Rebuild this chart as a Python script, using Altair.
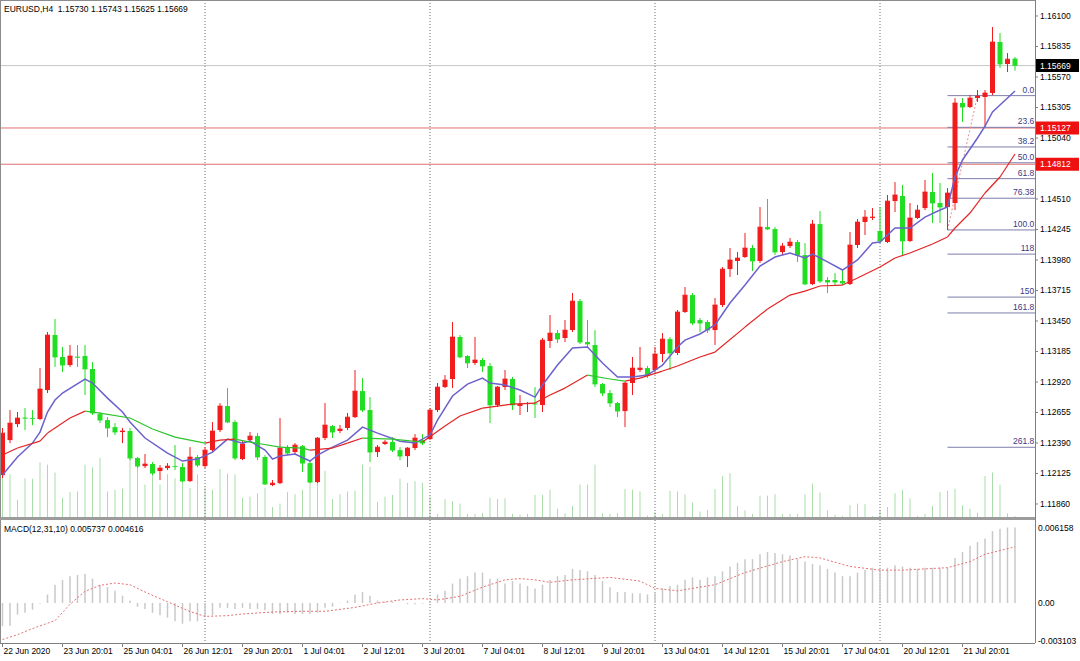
import altair as alt
import pandas as pd

# ---------------- data (bar index 0..135, EURUSD H4 from 22 Jun 2020) ----------------
opens = [1.12111,1.12415,1.12554,1.12610,1.12607,1.12598,1.12850,1.13328,1.13137,1.13067,
         1.13140,1.13146,1.13033,1.12641,1.12589,1.12528,1.12485,1.12494,1.12259,1.12189,
         1.12207,1.12146,1.12172,1.12189,1.12181,1.12059,1.12268,1.12189,1.12328,1.12502,
         1.12711,1.12572,1.12250,1.12415,1.12450,1.12268,1.12024,1.12041,1.12346,1.12311,
         1.12363,1.12215,1.12050,1.12433,1.12537,1.12494,1.12520,1.12615,1.12841,1.12676,
         1.12311,1.12381,1.12398,1.12328,1.12276,1.12346,1.12415,1.12424,1.12676,1.12876,
         1.12946,1.13311,1.13146,1.13085,1.13111,1.13059,1.12720,1.12876,1.12946,1.12711,
         1.12728,1.12733,1.12720,1.13276,1.13345,1.13302,1.13371,1.13623,1.13267,1.13241,
         1.12902,1.12824,1.12737,1.12667,1.12911,1.13024,1.13041,1.13024,1.13163,1.13293,
         1.13172,1.13528,1.13675,1.13458,1.13441,1.13371,1.13589,1.13901,1.13971,1.14006,
         1.14084,1.13971,1.14266,1.14249,1.14049,1.14101,1.14136,1.14023,1.13771,1.14292,
         1.13806,1.13806,1.13797,1.13771,1.14110,1.14310,1.14345,1.14232,1.14136,1.14492,
         1.14536,1.14145,1.14345,1.14431,1.14571,1.14475,1.14440,1.14475,1.15344,1.15309,
         1.15387,1.15396,1.15431,1.15874,1.15683,1.15730]
highs = [1.12520,1.12676,1.12659,1.12693,1.12676,1.13041,1.13354,1.13467,1.13224,1.13241,
         1.13241,1.13241,1.13093,1.12659,1.12615,1.12563,1.12520,1.12520,1.12268,1.12294,
         1.12224,1.12198,1.12215,1.12372,1.12215,1.12354,1.12285,1.12354,1.12572,1.12737,
         1.12867,1.12589,1.12415,1.12485,1.12476,1.12285,1.12068,1.12607,1.12372,1.12389,
         1.12372,1.12241,1.12441,1.12737,1.12546,1.12546,1.12650,1.13024,1.12954,1.12789,
         1.12372,1.12415,1.12441,1.12354,1.12354,1.12467,1.12467,1.12693,1.12911,1.12980,
         1.13441,1.13328,1.13154,1.13311,1.13128,1.13085,1.12884,1.13024,1.12963,1.12807,
         1.12746,1.12876,1.13302,1.13502,1.13371,1.13458,1.13693,1.13641,1.13458,1.13371,
         1.12911,1.12850,1.12746,1.12920,1.13137,1.13224,1.13059,1.13224,1.13345,1.13311,
         1.13545,1.13745,1.13693,1.13476,1.13458,1.13650,1.13919,1.14084,1.14049,1.14214,
         1.14110,1.14440,1.14510,1.14266,1.14127,1.14171,1.14153,1.14127,1.14327,1.14405,
         1.13832,1.13867,1.13893,1.14223,1.14336,1.14414,1.14431,1.14440,1.14545,1.14657,
         1.14631,1.14475,1.14458,1.14675,1.14736,1.14649,1.14605,1.15387,1.15387,1.15413,
         1.15457,1.15457,1.16004,1.15952,1.15778,1.15743]
lows = [1.12085,1.12389,1.12528,1.12502,1.12545,1.12589,1.12824,1.13050,1.13006,1.13050,
        1.13050,1.12807,1.12633,1.12563,1.12441,1.12459,1.12389,1.12241,1.12172,1.12172,
        1.12111,1.12068,1.12155,1.12155,1.12050,1.12050,1.12181,1.12172,1.12311,1.12485,
        1.12563,1.12241,1.12241,1.12398,1.12241,1.12024,1.12015,1.12033,1.12285,1.12285,
        1.12137,1.12041,1.12041,1.12415,1.12433,1.12476,1.12502,1.12607,1.12659,1.12224,
        1.12268,1.12372,1.12311,1.12241,1.12181,1.12328,1.12372,1.12415,1.12659,1.12867,
        1.12867,1.13128,1.13041,1.13067,1.13006,1.12563,1.12702,1.12850,1.12676,1.12633,
        1.12659,1.12607,1.12659,1.13215,1.13259,1.13267,1.13354,1.13250,1.13224,1.12876,
        1.12798,1.12702,1.12615,1.12528,1.12807,1.13006,1.12954,1.13006,1.13093,1.13024,
        1.13154,1.13519,1.13415,1.13354,1.13345,1.13241,1.13571,1.13832,1.13849,1.13997,
        1.13884,1.13954,1.14240,1.14023,1.14023,1.14084,1.13963,1.13762,1.13762,1.13780,
        1.13693,1.13762,1.13762,1.13762,1.14084,1.14197,1.14327,1.14127,1.14127,1.14397,
        1.14023,1.14136,1.14336,1.14414,1.14301,1.14301,1.14240,1.14414,1.15179,1.15300,
        1.15353,1.15135,1.15413,1.15648,1.15613,1.15625]
closes = [1.12476,1.12563,1.12607,1.12605,1.12603,1.12859,1.13328,1.13137,1.13067,1.13146,
          1.13134,1.13033,1.12650,1.12589,1.12520,1.12485,1.12494,1.12259,1.12189,1.12207,
          1.12128,1.12172,1.12189,1.12185,1.12059,1.12268,1.12198,1.12328,1.12494,1.12711,
          1.12572,1.12259,1.12381,1.12450,1.12268,1.12033,1.12041,1.12346,1.12302,1.12372,
          1.12215,1.12050,1.12433,1.12546,1.12485,1.12511,1.12615,1.12841,1.12676,1.12311,
          1.12354,1.12398,1.12328,1.12276,1.12346,1.12433,1.12389,1.12676,1.12876,1.12937,
          1.13311,1.13137,1.13085,1.13111,1.13059,1.12720,1.12876,1.12946,1.12720,1.12728,
          1.12733,1.12728,1.13284,1.13345,1.13293,1.13371,1.13623,1.13267,1.13250,1.12902,
          1.12824,1.12737,1.12667,1.12911,1.13041,1.13041,1.12980,1.13163,1.13293,1.13172,
          1.13528,1.13675,1.13432,1.13432,1.13371,1.13589,1.13901,1.13980,1.13997,1.14084,
          1.13971,1.14266,1.14249,1.14049,1.14101,1.14136,1.14023,1.13771,1.14292,1.13797,
          1.13788,1.13788,1.13780,1.14110,1.14310,1.14353,1.14353,1.14145,1.14492,1.14545,
          1.14145,1.14345,1.14414,1.14571,1.14475,1.14440,1.14562,1.15344,1.15309,1.15387,
          1.15405,1.15431,1.15874,1.15683,1.15725,1.15669]
volumes = [5700,6200,2450,5600,5550,7950,7600,6450,2800,3600,
           3700,7600,7200,8600,3700,3950,4100,8450,7300,4700,
           6200,4700,6200,5600,6550,4200,6200,4300,3950,6950,
           6300,6200,2800,2950,3450,4200,1450,1950,3600,3300,
           3950,5700,5450,6700,2600,3300,3700,3800,7600,7300,
           2200,2950,3200,5550,4950,5200,4950,2950,450,2600,
           2300,1950,450,450,600,2800,2600,2700,450,350,
           450,3200,3200,3950,1200,550,1600,4700,4700,7600,
           550,450,550,4050,3950,3700,200,700,450,3800,
           3700,3300,2100,800,1050,4050,5950,6350,1600,950,
           450,3100,3100,3300,450,450,450,3300,4850,3550,
           950,350,150,1700,1950,1850,150,1050,1450,3450,
           3950,2700,150,450,1600,3600,3800,4100,1700,1200,
           600,5950,6450,4700,550,150]
macd_hist = [-0.0019,-0.00186,-0.00096,-0.0008,-0.00055,-0.00005,0.0007,0.0015,0.0019,0.0022,
             0.0023,0.0024,0.0020,0.0015,0.0013,0.0010,0.0006,0.0002,-0.0003,-0.0005,
             -0.0008,-0.0010,-0.0012,-0.0015,-0.0017,-0.0015,-0.0015,-0.0011,-0.0010,-0.0004,
             -0.0004,-0.0005,-0.0004,-0.0005,-0.0005,-0.0006,-0.0009,-0.0009,-0.0008,-0.0009,
             -0.0009,-0.0009,-0.0008,-0.0004,-0.0003,0.00003,0.0002,0.0007,0.0009,0.0006,
             0.0002,0.0001,0.0001,0.00003,-0.0001,-0.0001,-0.00005,0.0001,0.0007,0.0010,
             0.0016,0.0020,0.0022,0.0025,0.0025,0.0020,0.0020,0.0016,0.0018,0.0016,
             0.0014,0.0012,0.0015,0.0019,0.0022,0.0023,0.0028,0.0027,0.0026,0.0023,
             0.0018,0.0013,0.0009,0.0009,0.0008,0.0008,0.0007,0.0009,0.0012,0.0014,
             0.0015,0.0019,0.0021,0.0019,0.0021,0.0022,0.0026,0.0030,0.0033,0.0036,
             0.0036,0.0040,0.0042,0.0041,0.0040,0.0039,0.0036,0.0034,0.0032,0.0031,
             0.0028,0.0025,0.0022,0.0022,0.0025,0.0027,0.0029,0.0029,0.0029,0.0031,
             0.0030,0.0029,0.0028,0.0029,0.0029,0.0029,0.0029,0.0037,0.0042,0.0047,
             0.0050,0.0053,0.0059,0.0061,0.0062,0.0062]

# fast moving average (blue), read at selected bars
blue_k = [0,2,4,5,6,7,8,11,12,14,16,17,19,22,24,26,28,30,32,33,35,36,37,39,41,42,44,46,48,50,
          53,55,57,58,60,62,64,65,67,69,71,72,74,76,78,80,82,84,86,88,90,91,93,95,97,99,101,103,105,107,
          108,110,112,114,116,117,119,121,123,125,126,127,128,130,131,132,134,135]
blue_v = [1.12111,1.12268,1.12389,1.12485,1.12659,1.12763,1.12824,1.12946,1.12911,1.12780,
          1.12659,1.12572,1.12433,1.12302,1.12233,1.12250,1.12311,1.12424,1.12389,1.12406,
          1.12328,1.12250,1.12276,1.12294,1.12233,1.12285,1.12354,1.12415,1.12528,1.12476,
          1.12406,1.12389,1.12459,1.12589,1.12798,1.12902,1.12954,1.12911,1.12894,1.12850,
          1.12789,1.12894,1.13067,1.13215,1.13224,1.13085,1.12963,1.12963,1.12980,1.13067,
          1.13224,1.13284,1.13337,1.13415,1.13606,1.13762,1.13927,1.14006,1.14041,1.13997,
          1.14032,1.13963,1.13893,1.13980,1.14127,1.14136,1.14258,1.14258,1.14353,1.14414,
          1.14440,1.14701,1.14849,1.15040,1.15144,1.15266,1.15387,1.15448]
# slow moving average (red when rising, green when falling)
ma_k = [0,2,5,6,9,11,13,17,20,23,27,29,31,33,37,40,41,44,46,48,52,56,59,61,64,66,68,71,73,75,
        78,81,83,85,88,90,93,95,99,102,105,107,109,112,114,117,119,121,124,126,127,129,131,133,135]
ma_v = [1.12285,1.12346,1.12406,1.12476,1.12607,1.12667,1.12650,1.12607,1.12511,1.12441,
        1.12389,1.12415,1.12424,1.12398,1.12354,1.12346,1.12328,1.12346,1.12389,1.12433,
        1.12424,1.12398,1.12537,1.12624,1.12693,1.12711,1.12728,1.12737,1.12807,1.12867,
        1.12980,1.12946,1.12928,1.12954,1.13015,1.13059,1.13137,1.13180,1.13397,1.13554,
        1.13675,1.13710,1.13754,1.13762,1.13823,1.13919,1.13997,1.14041,1.14119,1.14180,
        1.14258,1.14388,1.14562,1.14701,1.14901]
# MACD signal line
sig_k = [0,2,4,7,9,11,13,15,17,19,22,25,27,30,32,36,40,43,47,50,53,56,58,61,64,67,69,71,73,76,
         81,85,87,90,95,99,104,107,109,113,117,120,126,129,131,135]
sig_v = [-0.0030,-0.0026,-0.0021,-0.00145,-0.0001,0.00096,0.00145,0.00164,0.0015,0.0009,
         0.0001,-0.0007,-0.0011,-0.00104,-0.0009,-0.00074,-0.00068,-0.00068,-0.00036,0.0,
         0.00025,0.00036,0.00025,0.00055,0.0013,0.0019,0.0020,0.0019,0.0017,0.0019,
         0.0021,0.0018,0.0012,0.0010,0.0015,0.0025,0.0034,0.0038,0.0037,0.0030,
         0.0027,0.0027,0.0029,0.0034,0.0040,0.004616]

PRICE_TICKS = [1.11860,1.12125,1.12390,1.12655,1.12920,1.13185,1.13450,1.13715,1.13980,
               1.14245,1.14510,1.14775,1.15040,1.15305,1.15570,1.15835,1.16100]
PRICE_LABELS = [1.11860,1.12125,1.12390,1.12655,1.12920,1.13185,1.13450,1.13715,1.13980,
                1.14245,1.14510,1.15040,1.15305,1.15570,1.15835,1.16100]
MACD_TICKS = [0.006158, 0.0, -0.003103]
MACD_TICK_TEXT = ['0.006158', '0.00', '-0.003103']
XLAB_BARS = [0,8,16,24,32,40,48,56,64,72,80,88,96,104,112,120,128]
XLABELS = ['22 Jun 2020','23 Jun 20:01','25 Jun 04:01','26 Jun 12:01','29 Jun 20:01','1 Jul 04:01',
           '2 Jul 12:01','3 Jul 20:01','7 Jul 04:01','8 Jul 12:01','9 Jul 20:01','13 Jul 04:01',
           '14 Jul 12:01','15 Jul 20:01','17 Jul 04:01','20 Jul 12:01','21 Jul 20:01']
GRID_BARS = [27, 57, 87, 117]
LAST_PRICE = 1.15669
LEVEL_LINES = [1.15127, 1.14812]
FIB_LEVELS = [0, 23.6, 38.2, 50, 61.8, 76.38, 100, 118, 150, 161.8, 261.8]
FIB_LABELS = ['0.0','23.6','38.2','50.0','61.8','76.38','100.0','118','150','161.8','261.8']
FIB_HIGH = 1.15408
FIB_LOW = 1.14241
FIB_LOW_BAR = 126
FIB_HIGH_BAR = 130
HEADER = 'EURUSD,H4\u00a0\u00a01.15730 1.15743 1.15625 1.15669'
MACD_HEADER = 'MACD(12,31,10) 0.005737 0.004616'

# ---------------- layout / styling ----------------
RED = '#f21c1c'
GREEN = '#22de22'
FONT = 'Liberation Sans'
FS = 8.5
TOTAL_W, TOTAL_H = 1080, 661
W = 1035              # right edge of the plotting panes
MAIN_BOTTOM = 517     # bottom of price pane
MACD_TOP, MACD_BOTTOM = 520, 643
XMAX = 137 + 2 / 3
AXC = '#808080'

bars = pd.DataFrame({'k': list(range(len(opens))), 'open': opens, 'high': highs, 'low': lows,
                     'close': closes, 'volume': volumes, 'macd': macd_hist})
bars['col'] = [RED if c > o else GREEN for o, c in zip(opens, closes)]

blue_df = pd.DataFrame({'k': blue_k, 'v': blue_v})
ma_seg = pd.DataFrame({'k1': ma_k[:-1], 'k2': ma_k[1:], 'p1': ma_v[:-1], 'p2': ma_v[1:]})
ma_seg['col'] = ['#e32424' if b >= a else '#2ec42e' for a, b in zip(ma_seg['p1'], ma_seg['p2'])]
sig_df = pd.DataFrame({'k': sig_k, 'v': sig_v})
fib_df = pd.DataFrame({'lvl': FIB_LEVELS, 'label': FIB_LABELS})
fib_df['price'] = FIB_HIGH - (FIB_HIGH - FIB_LOW) * fib_df['lvl'] / 100.0
fib_df['x1'] = FIB_LOW_BAR
fib_df['x2'] = XMAX
fib_df['xl'] = XMAX - 0.1
trend_df = pd.DataFrame({'k1': [FIB_LOW_BAR], 'k2': [FIB_HIGH_BAR], 'p1': [FIB_LOW], 'p2': [FIB_HIGH]})
grid_df = pd.DataFrame({'k': GRID_BARS})
box_df = pd.DataFrame({'price': [LAST_PRICE] + LEVEL_LINES,
                       'text': ['%.5f' % LAST_PRICE] + ['%.5f' % p for p in LEVEL_LINES],
                       'bg': ['#000000', '#ee1111', '#ee1111']})
ptick_df = pd.DataFrame({'price': PRICE_TICKS})
plab_df = pd.DataFrame({'price': PRICE_LABELS, 'text': ['%.5f' % p for p in PRICE_LABELS]})
mtick_df = pd.DataFrame({'v': MACD_TICKS, 'text': MACD_TICK_TEXT})
xtick_df = pd.DataFrame({'k': XLAB_BARS, 'text': XLABELS})
one = pd.DataFrame({'a': [0]})

xsc = alt.Scale(domain=[-1 / 3, XMAX], range=[0, W], nice=False, zero=False, padding=0)
ysc = alt.Scale(domain=[1.117469, 1.16239], range=[MAIN_BOTTOM, 0], nice=False, zero=False, padding=0)
vsc = alt.Scale(domain=[0, 75000], range=[MAIN_BOTTOM, 0], nice=False, zero=False, padding=0)
msc = alt.Scale(domain=[-0.003284, 0.006815], range=[MACD_BOTTOM, MACD_TOP], nice=False, zero=False, padding=0)


def X(f='k'):
    return alt.X(f + ':Q', scale=xsc, axis=None)


def Yp(f):
    return alt.Y(f + ':Q', scale=ysc, axis=None)


def Ym(f):
    return alt.Y(f + ':Q', scale=msc, axis=None)


colv = alt.Color('col:N', scale=None)
cb = alt.Chart(bars)
txt = dict(font=FONT, fontSize=FS, color='#000000')

# ---------------- volume ----------------
vol = cb.mark_rule(color='#a9dca9', strokeWidth=1).encode(
    x=X(), y=alt.Y('volume:Q', scale=vsc, axis=None), y2=alt.datum(0))

# ---------------- price pane ----------------
grid_main = alt.Chart(grid_df).mark_rule(color='#6e6e6e', strokeDash=[1, 2], strokeWidth=1).encode(
    x=X(), y=alt.value(0), y2=alt.value(MAIN_BOTTOM))
last_line = alt.Chart(pd.DataFrame({'price': [LAST_PRICE]})).mark_rule(color='#c4c4c4', strokeWidth=1).encode(
    x=alt.value(0), x2=alt.value(W), y=Yp('price'))
lvl_lines = alt.Chart(pd.DataFrame({'price': LEVEL_LINES})).mark_rule(color='#e27070', strokeWidth=1).encode(
    x=alt.value(0), x2=alt.value(W), y=Yp('price'))
fib_lines = alt.Chart(fib_df).mark_rule(color='#7d7dab', strokeWidth=1).encode(
    x=X('x1'), x2='x2:Q', y=Yp('price'))
fib_text = alt.Chart(fib_df).mark_text(align='right', baseline='bottom', dy=-1, color='#3a3a86',
                                       font=FONT, fontSize=FS).encode(
    x=X('xl'), y=Yp('price'), text='label:N')
fib_trend = alt.Chart(trend_df).mark_rule(color='#e88c8c', strokeDash=[2, 2], strokeWidth=1).encode(
    x=X('k1'), x2='k2:Q', y=Yp('p1'), y2='p2:Q')

wicks = cb.mark_rule(strokeWidth=1).encode(x=X(), y=Yp('low'), y2='high:Q', color=colv)
bodies = cb.mark_bar(width=5, strokeWidth=0).encode(x=X(), y=Yp('open'), y2='close:Q', color=colv)
dojis = cb.mark_tick(orient='horizontal', size=5, thickness=1).encode(x=X(), y=Yp('close'), color=colv)

blue = alt.Chart(blue_df).mark_line(color='#6b62cc', strokeWidth=1.5).encode(x=X(), y=Yp('v'))
ma = alt.Chart(ma_seg).mark_rule(strokeWidth=1.2).encode(
    x=X('k1'), x2='k2:Q', y=Yp('p1'), y2='p2:Q', color=colv)

p_ticks = alt.Chart(ptick_df).mark_rule(color=AXC, strokeWidth=1).encode(
    x=alt.value(W), x2=alt.value(W + 3), y=Yp('price'))
p_labels = alt.Chart(plab_df).mark_text(align='left', baseline='middle', **txt).encode(
    x=alt.value(W + 5), y=Yp('price'), text='text:N')
boxes = alt.Chart(box_df).mark_rule(strokeWidth=13, strokeCap='butt').encode(
    x=alt.value(W + 1), x2=alt.value(W + 44), y=Yp('price'), color=alt.Color('bg:N', scale=None))
box_text = alt.Chart(box_df).mark_text(align='left', baseline='middle', color='#ffffff',
                                       font=FONT, fontSize=FS).encode(
    x=alt.value(W + 5), y=Yp('price'), text='text:N')

price_layer = alt.layer(grid_main, last_line, lvl_lines, fib_lines, fib_trend, wicks, bodies, dojis,
                        blue, ma, fib_text, p_ticks, p_labels, boxes, box_text)

# ---------------- MACD pane ----------------
grid_macd = alt.Chart(grid_df).mark_rule(color='#6e6e6e', strokeDash=[1, 2], strokeWidth=1).encode(
    x=X(), y=alt.value(MACD_TOP), y2=alt.value(MACD_BOTTOM))
hist = cb.mark_rule(color='#c8c8c8', strokeWidth=1.5).encode(x=X(), y=Ym('macd'), y2=alt.datum(0))
sig = alt.Chart(sig_df).mark_line(color='#e27272', strokeDash=[2, 2], strokeWidth=1).encode(x=X(), y=Ym('v'))
m_labels = alt.Chart(mtick_df).mark_text(align='left', baseline='middle', **txt).encode(
    x=alt.value(W + 3), y=Ym('v'), text='text:N')
macd_layer = alt.layer(grid_macd, hist, sig, m_labels)

# ---------------- frame, time scale and captions ----------------
frame_left = alt.Chart(one).mark_rule(color='#8c8c8c', strokeWidth=1).encode(
    x=alt.value(0.5), y=alt.value(0), y2=alt.value(MACD_BOTTOM))
frame_top = alt.Chart(one).mark_rule(color='#8c8c8c', strokeWidth=1).encode(
    x=alt.value(0), x2=alt.value(W), y=alt.value(0.5))
frame_right = alt.Chart(one).mark_rule(color=AXC, strokeWidth=1).encode(
    x=alt.value(W + 0.5), y=alt.value(0), y2=alt.value(MACD_BOTTOM))
frame_bottom = alt.Chart(one).mark_rule(color=AXC, strokeWidth=1).encode(
    x=alt.value(0), x2=alt.value(W), y=alt.value(MACD_BOTTOM + 0.5))
separator = alt.Chart(one).mark_rule(color='#9c9c9c', strokeWidth=3).encode(
    x=alt.value(0), x2=alt.value(W), y=alt.value(MAIN_BOTTOM + 1.5))
x_ticks = alt.Chart(xtick_df).mark_rule(color=AXC, strokeWidth=1).encode(
    x=X(), y=alt.value(MACD_BOTTOM), y2=alt.value(MACD_BOTTOM + 4))
x_labels = alt.Chart(xtick_df).mark_text(align='left', baseline='middle', dx=1, **txt).encode(
    x=X(), y=alt.value(MACD_BOTTOM + 8), text='text:N')
header = alt.Chart(pd.DataFrame({'t': [HEADER]})).mark_text(
    align='left', baseline='middle', **txt).encode(x=alt.value(4), y=alt.value(9), text='t:N')
macd_header = alt.Chart(pd.DataFrame({'t': [MACD_HEADER]})).mark_text(
    align='left', baseline='middle', **txt).encode(x=alt.value(4), y=alt.value(MACD_TOP + 9), text='t:N')
deco = alt.layer(frame_left, frame_top, frame_right, frame_bottom, separator, x_ticks, x_labels,
                 header, macd_header)

chart = alt.layer(vol, macd_layer, price_layer, deco).resolve_scale(y='independent').properties(
    width=TOTAL_W, height=TOTAL_H, padding=0, background='white',
    autosize=alt.AutoSizeParams(type='none')).configure_view(stroke=None)

chart.save('out.html', embed_options={'renderer': 'svg', 'actions': False})
